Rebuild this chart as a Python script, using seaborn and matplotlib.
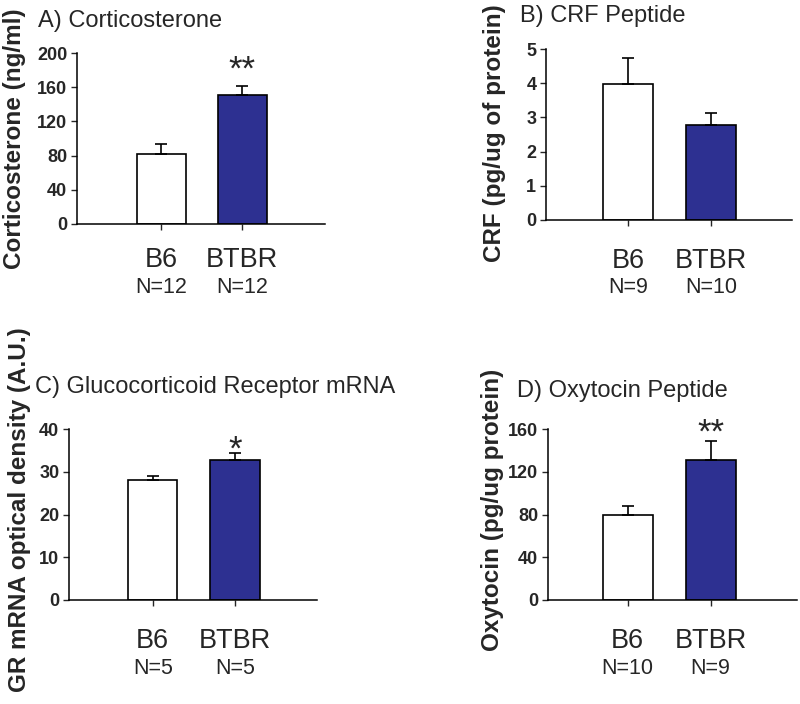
import numpy as np
import seaborn as sns
import matplotlib.pyplot as plt

# strains and fill colours
groups = ['B6', 'BTBR']
bar_colors = ['white', '#2d3091']

# A) corticosterone
cort_mean = [82, 151]
cort_sem = [11, 10]
cort_n = ['N=12', 'N=12']
cort_sig = ['', '**']

# B) CRF peptide
crf_mean = [3.97, 2.79]
crf_sem = [0.78, 0.33]
crf_n = ['N=9', 'N=10']
crf_sig = ['', '']

# C) GR mRNA
gr_mean = [28.1, 32.8]
gr_sem = [1.0, 1.5]
gr_n = ['N=5', 'N=5']
gr_sig = ['', '*']

# D) oxytocin peptide
oxt_mean = [80, 131]
oxt_sem = [8, 18]
oxt_n = ['N=10', 'N=9']
oxt_sig = ['', '**']

sns.set_style('ticks')
plt.rcParams['font.family'] = ['Liberation Sans', 'DejaVu Sans']

W, H = 800, 704
fig = plt.figure(figsize=(W / 100, H / 100), dpi=100)


def px_rect(left, top, right, bottom):
    return [left / W, 1 - bottom / H, (right - left) / W, (bottom - top) / H]


panels = [
    dict(title='A) Corticosterone', title_xy=(38, 21),
         ylabel='Corticosterone (ng/ml)', ylab_x=-0.25, ylab_y=0.5,
         mean=cort_mean, sem=cort_sem, n=cort_n, sig=cort_sig, star_off=7,
         rect=(77, 53, 325, 224), xlim=(-1.04, 2.02), ymax=200, ystep=40,
         lab_pad=12.5, n_off=38),
    dict(title='B) CRF Peptide', title_xy=(520, 16),
         ylabel='CRF (pg/ug of protein)', ylab_x=-0.21, ylab_y=0.51,
         mean=crf_mean, sem=crf_sem, n=crf_n, sig=crf_sig, star_off=0,
         rect=(546, 49, 792, 220), xlim=(-0.99, 1.98), ymax=5, ystep=1,
         lab_pad=16, n_off=41),
    dict(title='C) Glucocorticoid Receptor mRNA', title_xy=(35, 387),
         ylabel='GR mRNA optical density (A.U.)', ylab_x=-0.198, ylab_y=0.53,
         mean=gr_mean, sem=gr_sem, n=gr_n, sig=gr_sig, star_off=-6,
         rect=(69, 429, 317, 600), xlim=(-1.02, 2.0), ymax=40, ystep=10,
         lab_pad=16, n_off=42),
    dict(title='D) Oxytocin Peptide', title_xy=(517, 391),
         ylabel='Oxytocin (pg/ug protein)', ylab_x=-0.222, ylab_y=0.526,
         mean=oxt_mean, sem=oxt_sem, n=oxt_n, sig=oxt_sig, star_off=-2,
         rect=(548, 429, 797, 600), xlim=(-0.96, 2.04), ymax=160, ystep=40,
         lab_pad=16, n_off=42),
]

for p in panels:
    ax = fig.add_axes(px_rect(*p['rect']))
    sns.barplot(x=groups, y=p['mean'], hue=groups, palette=bar_colors,
                saturation=1, edgecolor='black', linewidth=1.2, width=0.6,
                errorbar=None, legend=False, ax=ax)
    xs = np.arange(len(groups))
    ax.errorbar(xs, p['mean'], yerr=[np.zeros(len(xs)), p['sem']], fmt='none',
                ecolor='black', elinewidth=1.2, capsize=4, capthick=1.2)

    # significance stars over the error bars
    for x, m, s, star in zip(xs, p['mean'], p['sem'], p['sig']):
        if star:
            ax.annotate(star, xy=(x, m + s), xytext=(0, p['star_off'] * 0.72),
                        textcoords='offset points', ha='center', va='baseline',
                        fontsize=25, annotation_clip=False)

    # group sizes under the strain names
    for x, n in zip(xs, p['n']):
        ax.annotate(n, xy=(x, 0), xycoords=('data', 'axes fraction'),
                    xytext=(0, -p['n_off']), textcoords='offset points',
                    ha='center', va='top', fontsize=15.5)

    ax.set_xlim(*p['xlim'])
    ax.set_ylim(0, p['ymax'])
    ax.set_yticks(np.arange(0, p['ymax'] + p['ystep'] / 2, p['ystep']))
    ax.set_xticks(xs)
    ax.set_xticklabels(groups)
    ax.set_xlabel('')
    ax.tick_params(axis='x', length=4, width=1.0, pad=p['lab_pad'], labelsize=19.5)
    ax.tick_params(axis='y', length=4, width=1.0, pad=3, labelsize=13)
    for lab in ax.get_yticklabels():
        lab.set_fontweight('bold')
    for sp in ['left', 'bottom']:
        ax.spines[sp].set_linewidth(1.1)
        ax.spines[sp].set_color('black')
    sns.despine(ax=ax)

    ax.set_ylabel(p['ylabel'], fontsize=17.5, fontweight='bold')
    ax.yaxis.label.set_verticalalignment('center')
    ax.yaxis.set_label_coords(p['ylab_x'], p['ylab_y'])

    tx, ty = p['title_xy']
    fig.text(tx / W, 1 - ty / H, p['title'], ha='left', va='center', fontsize=17)

fig.savefig('out.png', dpi=100, facecolor='white')
